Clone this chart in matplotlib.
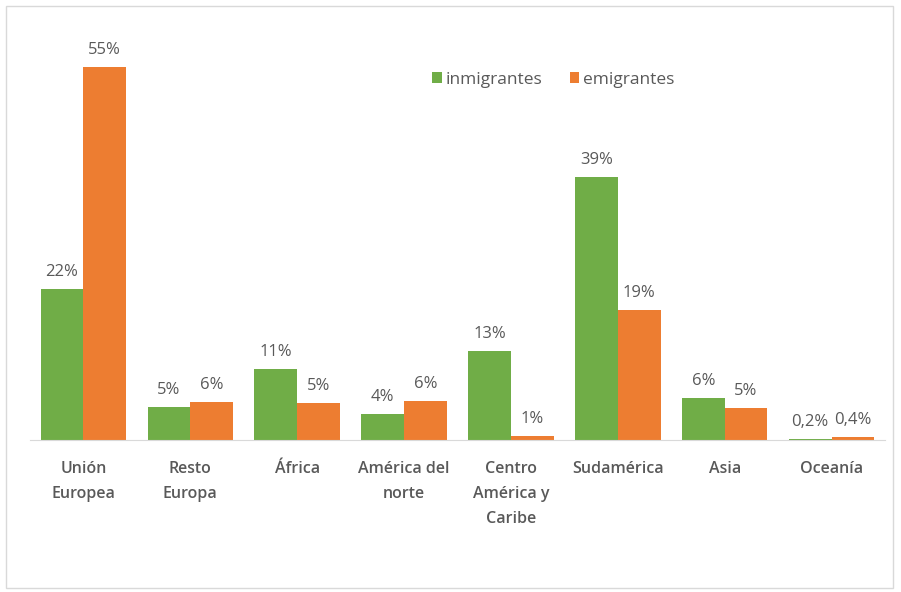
import matplotlib.pyplot as plt
import numpy as np
from matplotlib.patches import Rectangle

categories = ["Unión\nEuropea", "Resto\nEuropa", "África", "América del\nnorte",
              "Centro\nAmérica y\nCaribe", "Sudamérica", "Asia", "Oceanía"]
inmigrantes = [22.3, 4.9, 10.5, 3.8, 13.1, 38.8, 6.2, 0.2]
emigrantes = [55.0, 5.6, 5.5, 5.8, 0.6, 19.2, 4.7, 0.4]
inmig_labels = ["22%", "5%", "11%", "4%", "13%", "39%", "6%", "0,2%"]
emig_labels = ["55%", "6%", "5%", "6%", "1%", "19%", "5%", "0,4%"]

green = "#70AD47"
orange = "#ED7D31"
gray = "#595959"

plt.rcParams["font.family"] = ["Open Sans", "DejaVu Sans"]

fig = plt.figure(figsize=(9.01, 5.92), dpi=100)
ax = fig.add_axes([30 / 901, 152 / 592, 855 / 901, 407 / 592])

x = np.arange(len(categories))
w = 0.40
b1 = ax.bar(x - w / 2, inmigrantes, w, color=green, label="inmigrantes")
b2 = ax.bar(x + w / 2, emigrantes, w, color=orange, label="emigrantes")

for rect, lab in zip(b1, inmig_labels):
    ax.text(rect.get_x() + rect.get_width() / 2, rect.get_height() + 1.3, lab,
            ha="center", va="bottom", fontsize=12, color=gray)
for rect, lab in zip(b2, emig_labels):
    ax.text(rect.get_x() + rect.get_width() / 2, rect.get_height() + 1.3, lab,
            ha="center", va="bottom", fontsize=12, color=gray)

ax.set_xlim(-0.5, len(categories) - 0.5)
ax.set_ylim(0, 60)
ax.set_yticks([])
ax.set_xticks(x)
ax.set_xticklabels(categories, fontsize=11.5, color=gray, fontweight="semibold",
                   linespacing=1.75, va="top")
ax.tick_params(axis="x", length=0, pad=15)
for s in ["top", "right", "left"]:
    ax.spines[s].set_visible(False)
ax.spines["bottom"].set_color("#D9D9D9")

ax.legend(loc="center", bbox_to_anchor=(0.612, 0.885), ncol=2, frameon=False,
          fontsize=12.5, labelcolor=gray, handlelength=0.55, handleheight=0.55,
          handletextpad=0.2, columnspacing=1.6)

fig.patches.append(Rectangle((6 / 901, 4 / 592), 887 / 901, 582 / 592,
                             transform=fig.transFigure, fill=False,
                             edgecolor="#D9D9D9", linewidth=1))

fig.savefig("out.png", dpi=100)
